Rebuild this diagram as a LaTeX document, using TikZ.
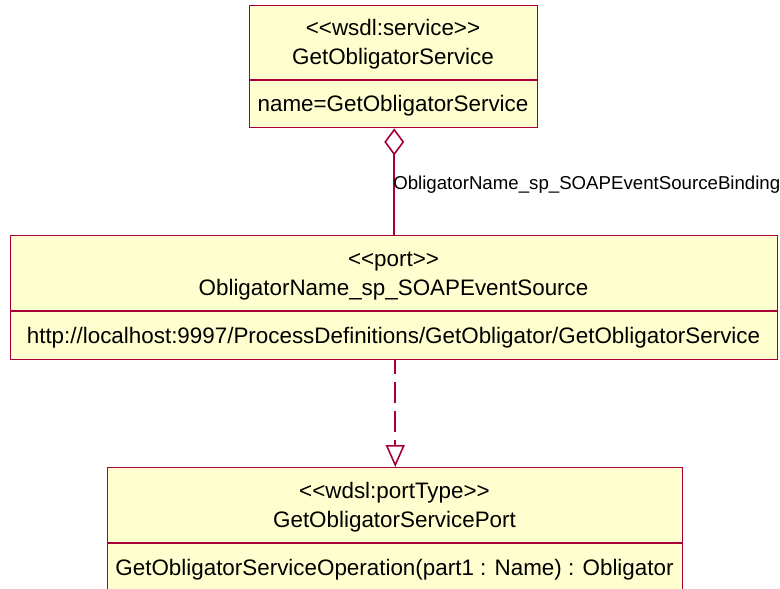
\documentclass[tikz,border=0pt]{standalone}
\usepackage{fontspec}
\setmainfont{Liberation Sans}[Ligatures=TeXOff]
\usetikzlibrary{arrows.meta}
\definecolor{umlborder}{HTML}{A80036}
\definecolor{umlfill}{HTML}{FEFECE}
\tikzset{
  umlbox/.style={draw=umlborder, fill=umlfill, line width=1.1pt, inner sep=0pt, anchor=north west},
  sepline/.style={draw=umlborder, line width=1.1pt},
  conn/.style={draw=umlborder, line width=1.2pt},
  txt/.style={inner sep=0pt, anchor=base, text=black, font=\fontsize{16.8pt}{20pt}\selectfont},
  lbl/.style={inner sep=0pt, anchor=base west, text=black, font=\fontsize{14pt}{17pt}\selectfont},
}
\begin{document}
\begin{tikzpicture}[x=0.75pt,y=-0.75pt]
\clip (0,0) rectangle (780,588);
\fill[white] (0,0) rectangle (780,588);
% boxes
\node[umlbox, minimum width=216pt, minimum height=91.5pt] (svc) at (249,5) {};
\node[umlbox, minimum width=575.25pt, minimum height=93pt] (port) at (10,235) {};
\node[umlbox, minimum width=431.25pt, minimum height=93pt] (op) at (107,467) {};
% separators
\coordinate (s1) at (0,80);
\coordinate (s2) at (0,311);
\coordinate (s3) at (0,543);
\draw[sepline] (svc.west |- s1) -- (svc.east |- s1);
\draw[sepline] (port.west |- s2) -- (port.east |- s2);
\draw[sepline] (op.west |- s3) -- (op.east |- s3);
% texts
\node[txt] (svcst) at (393,36) {<<wsdl:service>>};
\node[txt] (svcnm) at (393,65) {GetObligatorService};
\node[txt] (svcat) at (393,112) {name=GetObligatorService};
\node[txt] (portst) at (393.5,266) {<<port>>};
\node[txt] (portnm) at (393.5,295) {ObligatorName\_sp\_SOAPEventSource};
\node[txt] (portat) at (393.5,343) {http://localhost:9997/ProcessDefinitions/GetObligator/GetObligatorService};
\node[txt] (opst) at (394.5,498) {<<wdsl:portType>>};
\node[txt] (opnm) at (394.5,527) {GetObligatorServicePort};
\node[txt] (opop) at (394.5,575) {GetObligatorServiceOperation(part1 : Name) : Obligator};
% connectors
\coordinate (agg) at ([xshift=0.375pt]svc.south);
\draw[conn, {Diamond[open, length=20.25pt, width=15pt]}-] (agg) -- (agg |- port.north);
\node[lbl] (binding) at (393,189) {ObligatorName\_sp\_SOAPEventSourceBinding};
\draw[conn, dash pattern=on 15.75pt off 6pt, dash phase=5.25pt, -{Triangle[open, length=16.5pt, width=14.25pt]}] (op.north |- port.south) -- (op.north);
\end{tikzpicture}
\end{document}
